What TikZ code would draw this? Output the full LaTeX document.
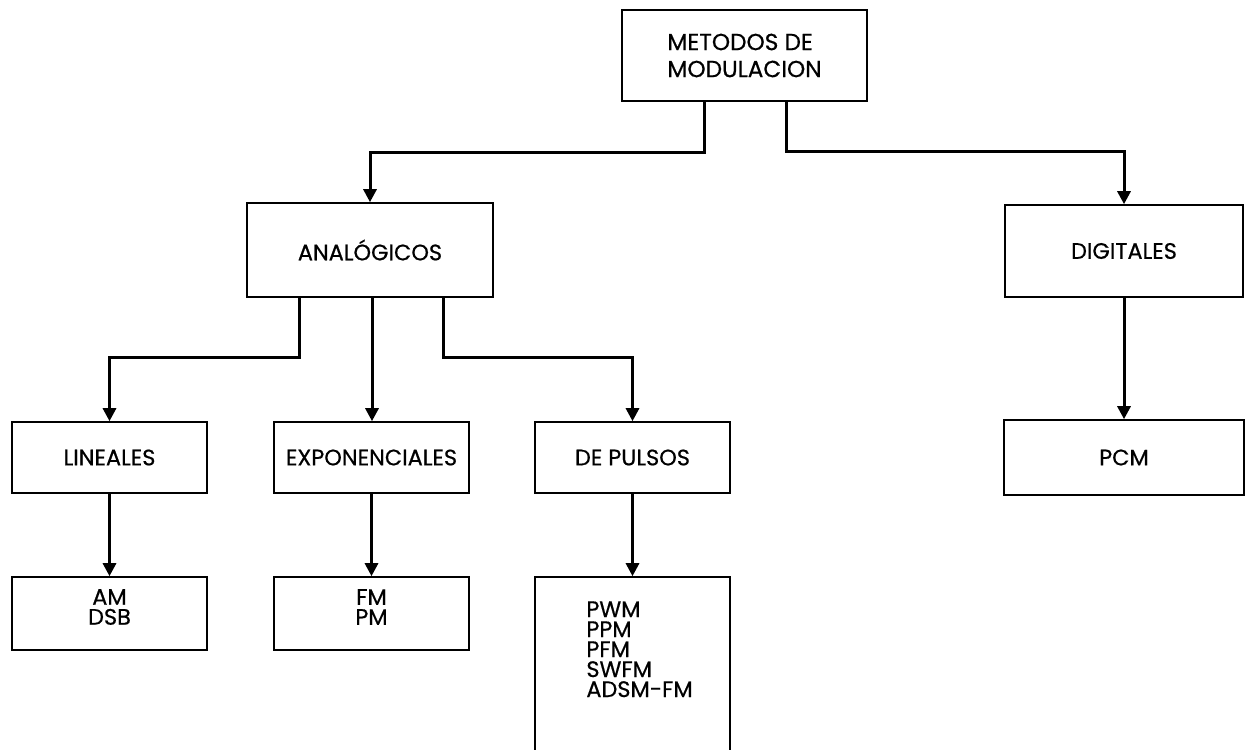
\documentclass[tikz,border=0pt]{standalone}
\usepackage{fontspec}
\setmainfont{Poppins}[FakeBold=0.5]
\newfontfamily\boxfont{Poppins}[FakeBold=0.6]
\usetikzlibrary{arrows.meta}
\begin{document}
\begin{tikzpicture}[x=0.5pt,y=-0.5pt,
  box/.style={draw, line width=0.8pt, inner sep=0pt, font=\boxfont\fontsize{11.2}{10}\selectfont, align=center},
  conn/.style={line width=1.5pt, -{Triangle[length=6.5pt,width=6.5pt]}},
  listtext/.style={inner sep=0pt, font=\boxfont\fontsize{11.2}{10}\selectfont, align=left}
  ]
\useasboundingbox (0,0) rectangle (1245,749);
\clip (0,0) rectangle (1245,749);
\fill[white] (0,0) rectangle (1245,749);
% boxes
\node[box, minimum width=122.5pt, minimum height=45.5pt, align=left, font=\boxfont\fontsize{11.6}{13.5}\selectfont] (top) at (744.5,55.5) {METODOS DE\\MODULACION};
\node[box, minimum width=123pt, minimum height=47pt] (ana) at (370,250) {ANALÓGICOS};
\node[box, minimum width=119pt, minimum height=46pt] (dig) at (1124,251) {DIGITALES};
\node[box, minimum width=97.5pt, minimum height=35.5pt] (lin) at (109.5,457.5) {LINEALES};
\node[box, minimum width=97.5pt, minimum height=35.5pt] (exp) at (371.5,457.5) {EXPONENCIALES};
\node[box, minimum width=97.5pt, minimum height=35.5pt] (dep) at (632.5,457.5) {DE PULSOS};
\node[box, minimum width=120pt, minimum height=37.5pt] (pcm) at (1124,457.5) {PCM};
\node[box, minimum width=97.5pt, minimum height=36.5pt] (am) at (109.5,613.5) {};
\node[listtext, align=center] (amtext) at (109.5,607) {AM\\DSB};
\node[box, minimum width=97.5pt, minimum height=36.5pt] (fm) at (371.5,613.5) {};
\node[listtext, align=center] (fmtext) at (371.5,607) {FM\\PM};
\node[box, minimum width=97.5pt, minimum height=101.5pt] (pwm) at (632.5,678.5) {};
\node[listtext, anchor=north west] (pwmtext) at (586,601) {PWM\\PPM\\PFM\\SWFM\\ADSM-FM};
% connectors
\draw[conn] (704,0 |- top.south) -- (704,152) -| (ana.north);
\draw[conn] (786,0 |- top.south) -- (786,151) -| (dig.north);
\draw[conn] (299,0 |- ana.south) -- (299,357) -| (lin.north);
\draw[conn] (372,0 |- ana.south) -- (372,0 |- exp.north);
\draw[conn] (443,0 |- ana.south) -- (443,357) -| (dep.north);
\draw[conn] (dig.south) -- (pcm.north);
\draw[conn] (lin.south) -- (am.north);
\draw[conn] (exp.south) -- (fm.north);
\draw[conn] (dep.south) -- (pwm.north);
\end{tikzpicture}
\end{document}
